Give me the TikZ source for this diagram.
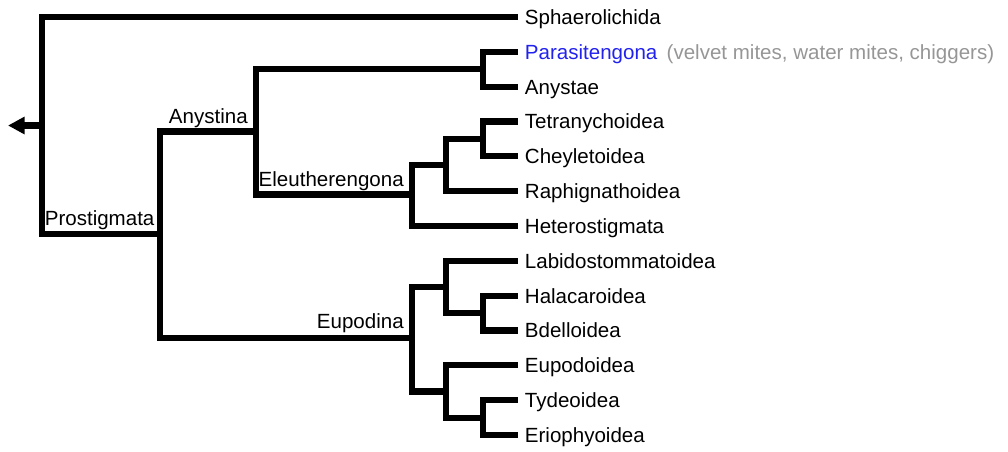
\documentclass[tikz,border=0pt]{standalone}
\usepackage{fontspec}
\setmainfont{Liberation Sans}
\usetikzlibrary{arrows.meta}
\definecolor{linkblue}{RGB}{34,34,238}
\definecolor{notegray}{RGB}{150,150,150}
\tikzset{
  branch/.style={line width=4.6pt, line join=miter},
  leaf/.style={anchor=west, inner xsep=5pt, inner ysep=0pt, text height=11.1pt, text depth=0pt, font=\fontsize{15.4}{18}\selectfont},
  clade/.style={anchor=base east, inner sep=0pt, font=\fontsize{15.4}{18}\selectfont}
}
\begin{document}
\begin{tikzpicture}[x=0.75pt,y=-0.75pt]
\useasboundingbox (0,0) rectangle (1008,451);

% inner nodes of the tree
\coordinate (root) at (42,125.5);
\coordinate (tip) at (8,125.5);
\coordinate (pro) at (160,234);
\coordinate (any) at (256,131.5);
\coordinate (ele) at (412,194.5);
\coordinate (pa) at (483,69.3);
\coordinate (trc) at (446,165);
\coordinate (tc) at (483,138.9);
\coordinate (eup) at (412,338);
\coordinate (lhb) at (446,287);
\coordinate (hb) at (483,313.1);
\coordinate (ett) at (446,391.5);
\coordinate (te) at (483,417.6);

% leaves
\node[leaf] (sph) at (518,17) {Sphaerolichida};
\node[leaf] (par) at (518,51.8) {\textcolor{linkblue}{Parasitengona}\hspace{7pt}\textcolor{notegray}{(velvet mites, water mites, chiggers)}};
\node[leaf] (ays) at (518,86.7) {Anystae};
\node[leaf] (tet) at (518,121.5) {Tetranychoidea};
\node[leaf] (che) at (518,156.3) {Cheyletoidea};
\node[leaf] (rap) at (518,191.2) {Raphignathoidea};
\node[leaf] (het) at (518,226) {Heterostigmata};
\node[leaf] (lab) at (518,260.8) {Labidostommatoidea};
\node[leaf] (hal) at (518,295.7) {Halacaroidea};
\node[leaf] (bde) at (518,330.5) {Bdelloidea};
\node[leaf] (eud) at (518,365.3) {Eupodoidea};
\node[leaf] (tyd) at (518,400.2) {Tydeoidea};
\node[leaf] (eri) at (518,435) {Eriophyoidea};

% clade names
\node[clade] (lpro) at ([xshift=-4pt,yshift=6.5pt]pro) {Prostigmata};
\node[clade] (lany) at ([xshift=-6pt,yshift=6pt]any) {Anystina};
\node[clade] (lele) at ([xshift=-6pt,yshift=6pt]ele) {Eleutherengona};
\node[clade] (leup) at ([xshift=-6pt,yshift=7pt]eup) {Eupodina};

% branches
\draw[branch, -{Triangle[length=12.5pt,width=12.5pt]}] (root) -- (tip);
\draw[branch] (root) |- (sph.west);
\draw[branch] (root) |- (pro);
\draw[branch] (pro) |- (any);
\draw[branch] (pro) |- (eup);
\draw[branch] (any) |- (pa);
\draw[branch] (any) |- (ele);
\draw[branch] (pa) |- (par.west);
\draw[branch] (pa) |- (ays.west);
\draw[branch] (ele) |- (trc);
\draw[branch] (ele) |- (het.west);
\draw[branch] (trc) |- (tc);
\draw[branch] (trc) |- (rap.west);
\draw[branch] (tc) |- (tet.west);
\draw[branch] (tc) |- (che.west);
\draw[branch] (eup) |- (lhb);
\draw[branch] (eup) |- (ett);
\draw[branch] (lhb) |- (lab.west);
\draw[branch] (lhb) |- (hb);
\draw[branch] (hb) |- (hal.west);
\draw[branch] (hb) |- (bde.west);
\draw[branch] (ett) |- (eud.west);
\draw[branch] (ett) |- (te);
\draw[branch] (te) |- (tyd.west);
\draw[branch] (te) |- (eri.west);
\end{tikzpicture}
\end{document}
